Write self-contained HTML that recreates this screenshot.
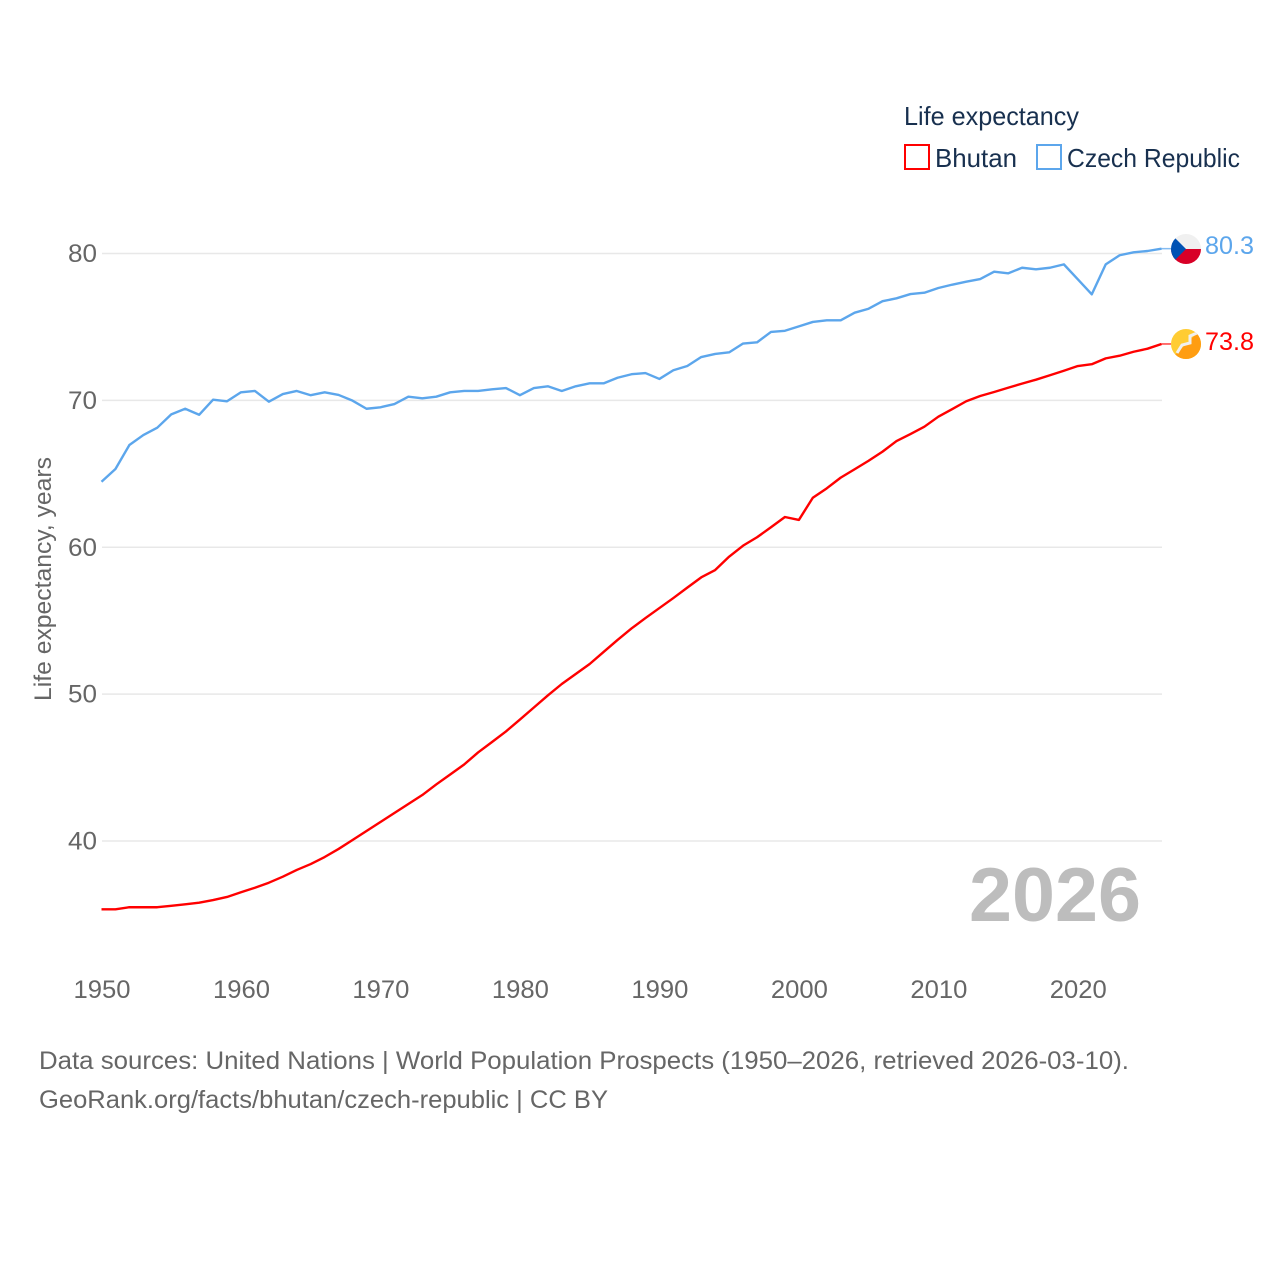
<!DOCTYPE html>
<html lang="en">
<head>
<meta charset="utf-8">
<title>Life expectancy: Bhutan and Czech Republic</title>
<style>
  html, body { margin: 0; padding: 0; background: #fff; }
  svg { display: block; font-family: "Liberation Sans", sans-serif; }
</style>
</head>
<body>
<svg id="chart" width="1280" height="1280" viewBox="0 0 1280 1280" xmlns="http://www.w3.org/2000/svg">
  <rect x="0" y="0" width="1280" height="1280" fill="#ffffff"/>
  <defs>
    <clipPath id="flag-clip-cz"><circle cx="1186" cy="249" r="15"/></clipPath>
    <clipPath id="flag-clip-bt"><circle cx="1186" cy="344" r="15"/></clipPath>
  </defs>

  <g id="grid"></g>
  <g id="y-ticks"></g>
  <g id="x-ticks"></g>
  <g id="lines"></g>

  <text transform="translate(51,701) rotate(-90)" font-size="24" fill="#666666" textLength="244" lengthAdjust="spacingAndGlyphs">Life expectancy, years</text>

  <g>
    <text x="904" y="125" font-size="26" fill="#18304f" textLength="175" lengthAdjust="spacingAndGlyphs">Life expectancy</text>
    <g>
      <rect x="905" y="145" width="24" height="24" fill="#ffffff" stroke="#ff0000" stroke-width="2"/>
      <text x="935" y="167" font-size="26" fill="#18304f" textLength="82" lengthAdjust="spacingAndGlyphs">Bhutan</text>
    </g>
    <g>
      <rect x="1037" y="145" width="24" height="24" fill="#ffffff" stroke="#5ca6ec" stroke-width="2"/>
      <text x="1067" y="167" font-size="26" fill="#18304f" textLength="173" lengthAdjust="spacingAndGlyphs">Czech Republic</text>
    </g>
  </g>

  <g clip-path="url(#flag-clip-cz)">
    <rect x="1171" y="234" width="30" height="15" fill="#f0f0f0"/>
    <rect x="1171" y="249" width="30" height="15" fill="#d80027"/>
    <polygon points="1171,234 1186,249 1171,264" fill="#0052b4"/>
  </g>
  <g clip-path="url(#flag-clip-bt)">
    <rect x="1171" y="329" width="30" height="30" fill="#ffcc33"/>
    <polygon points="1201,329 1201,359 1171,359" fill="#ff9d11"/>
    <polyline points="1177,353 1182,345 1190,343 1190,336 1197,333" fill="none" stroke="#f0f0f0" stroke-width="3"/>
  </g>

  <text x="1205" y="254" font-size="25" fill="#5ca6ec" textLength="49" lengthAdjust="spacingAndGlyphs">80.3</text>
  <text x="1205" y="350" font-size="25" fill="#ff0000" textLength="49" lengthAdjust="spacingAndGlyphs">73.8</text>

  <text x="969" y="921" font-size="76" font-weight="700" fill="#bdbdbd" textLength="172" lengthAdjust="spacingAndGlyphs">2026</text>

  <text x="39" y="1069" font-size="25" fill="#666666" textLength="1090" lengthAdjust="spacingAndGlyphs">Data sources: United Nations | World Population Prospects (1950–2026, retrieved 2026-03-10).</text>
  <text x="39" y="1108" font-size="25" fill="#666666" textLength="569" lengthAdjust="spacingAndGlyphs">GeoRank.org/facts/bhutan/czech-republic | CC BY</text>
</svg>

<script>
const startYear = 1950;
const yTickValues = [40, 50, 60, 70, 80];
const xTickValues = [1950, 1960, 1970, 1980, 1990, 2000, 2010, 2020];
const bhutanValues = [
  35.35, 35.35, 35.49, 35.49, 35.49, 35.59, 35.69, 35.80, 35.98, 36.19,
  36.51, 36.82, 37.16, 37.57, 38.03, 38.43, 38.91, 39.46, 40.07, 40.68,
  41.29, 41.91, 42.52, 43.13, 43.85, 44.53, 45.21, 46.03, 46.74, 47.46,
  48.27, 49.09, 49.91, 50.69, 51.37, 52.05, 52.87, 53.69, 54.47, 55.18,
  55.86, 56.54, 57.25, 57.95, 58.45, 59.36, 60.11, 60.68, 61.36, 62.06,
  61.86, 63.37, 64.01, 64.74, 65.31, 65.89, 66.51, 67.23, 67.71, 68.21,
  68.89, 69.41, 69.94, 70.30, 70.57, 70.86, 71.14, 71.41, 71.71, 72.02,
  72.34, 72.46, 72.86, 73.04, 73.31, 73.52, 73.84
];
const czechValues = [
  64.46, 65.33, 66.96, 67.64, 68.14, 69.05, 69.43, 69.02, 70.05, 69.94,
  70.55, 70.64, 69.91, 70.43, 70.64, 70.35, 70.55, 70.37, 69.98, 69.43,
  69.53, 69.75, 70.25, 70.14, 70.25, 70.55, 70.64, 70.64, 70.75, 70.84,
  70.35, 70.84, 70.96, 70.64, 70.96, 71.16, 71.16, 71.54, 71.78, 71.86,
  71.46, 72.05, 72.34, 72.95, 73.16, 73.27, 73.87, 73.95, 74.66, 74.74,
  75.04, 75.34, 75.45, 75.45, 75.97, 76.24, 76.75, 76.95, 77.24, 77.33,
  77.65, 77.88, 78.08, 78.26, 78.76, 78.65, 79.03, 78.92, 79.03, 79.26,
  78.24, 77.22, 79.26, 79.88, 80.08, 80.17, 80.33
];

const SVG_NS = 'http://www.w3.org/2000/svg';
const plotLeft = 102;
const plotRight = 1162;
const lineOffsetX = -0.5;
const lastYear = startYear + bhutanValues.length - 1;

function xScale(year) {
  return plotLeft + (year - startYear) * (plotRight - plotLeft) / (lastYear - startYear);
}
function yScale(value) {
  return 841 - (value - 40) * 14.6875;
}

const gridGroup = document.getElementById('grid');
const yTickGroup = document.getElementById('y-ticks');
const xTickGroup = document.getElementById('x-ticks');
const lineGroup = document.getElementById('lines');

yTickValues.forEach(function (value) {
  const gridline = document.createElementNS(SVG_NS, 'line');
  
  
  gridline.setAttribute('x1', plotLeft);
  gridline.setAttribute('x2', plotRight);
  gridline.setAttribute('y1', yScale(value));
  gridline.setAttribute('y2', yScale(value));
  gridline.setAttribute('stroke', '#e8e8e8');
  gridline.setAttribute('stroke-width', '1.5');
  gridGroup.appendChild(gridline);

  const label = document.createElementNS(SVG_NS, 'text');
  
  
  label.setAttribute('x', 97);
  label.setAttribute('y', yScale(value) + 8.5);
  label.setAttribute('text-anchor', 'end');
  label.setAttribute('font-size', '25');
  label.setAttribute('fill', '#666666');
  label.setAttribute('textLength', '29');
  label.setAttribute('lengthAdjust', 'spacingAndGlyphs');
  label.textContent = String(value);
  yTickGroup.appendChild(label);
});

xTickValues.forEach(function (year) {
  const label = document.createElementNS(SVG_NS, 'text');
  
  
  label.setAttribute('x', xScale(year));
  label.setAttribute('y', 998);
  label.setAttribute('text-anchor', 'middle');
  label.setAttribute('font-size', '25');
  label.setAttribute('fill', '#666666');
  label.setAttribute('textLength', '57');
  label.setAttribute('lengthAdjust', 'spacingAndGlyphs');
  label.textContent = String(year);
  xTickGroup.appendChild(label);
});

function buildPath(values) {
  return values.map(function (value, index) {
    const px = xScale(startYear + index) + lineOffsetX;
    return (index === 0 ? 'M' : 'L') + px.toFixed(2) + ' ' + yScale(value).toFixed(2);
  }).join(' ');
}

function drawSeries(values, color, seriesName) {
  const connector = document.createElementNS(SVG_NS, 'line');
  
  
  connector.setAttribute('x1', plotRight + lineOffsetX);
  connector.setAttribute('x2', plotRight + 9);
  connector.setAttribute('y1', yScale(values[values.length - 1]));
  connector.setAttribute('y2', yScale(values[values.length - 1]));
  connector.setAttribute('stroke', color);
  connector.setAttribute('stroke-width', '1.5');
  connector.setAttribute('stroke-opacity', '0.75');
  lineGroup.appendChild(connector);

  const path = document.createElementNS(SVG_NS, 'path');
  
  
  path.setAttribute('d', buildPath(values));
  path.setAttribute('fill', 'none');
  path.setAttribute('stroke', color);
  path.setAttribute('stroke-width', '2.4');
  path.setAttribute('stroke-linejoin', 'round');
  lineGroup.appendChild(path);
}

drawSeries(czechValues, '#5ca6ec', 'czech-republic');
drawSeries(bhutanValues, '#ff0000', 'bhutan');
</script>
</body>
</html>
